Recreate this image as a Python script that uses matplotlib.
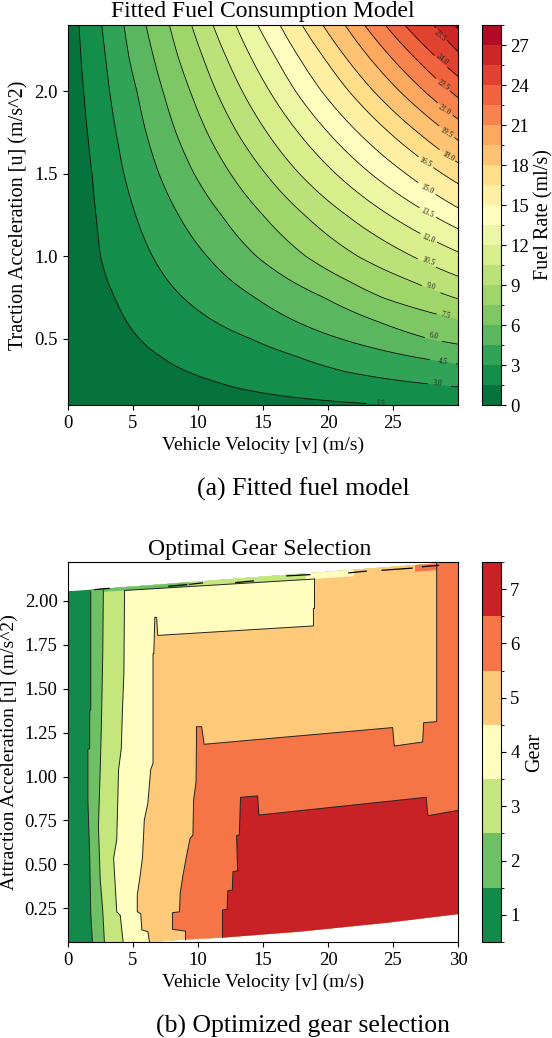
import matplotlib
matplotlib.use("Agg")
import matplotlib.pyplot as plt
import numpy as np
from matplotlib.cm import ScalarMappable
from matplotlib.colors import BoundaryNorm, ListedColormap
from matplotlib.patches import Polygon

plt.rcParams['font.family'] = ['Liberation Serif', 'DejaVu Serif']
W, H = 552, 1038

# ---- fuel model: velocity where each contour crosses the acceleration rows
fuel_levels = [1.5, 3, 4.5, 6, 7.5, 9, 10.5, 12, 13.5, 15, 16.5, 18, 19.5, 21, 22.5, 24, 25.5, 27]
fuel_u = [2.4, 2.2, 2.0, 1.75, 1.5, 1.25, 1.0, 0.85, 0.75, 0.6, 0.5, 0.4, 0.3, 0.25, 0.2, 0.15, 0.1]
fuel_v = [
    [0.85, 1.0, 1.2, 1.5, 1.85, 2.15, 2.5, 3.05, 3.6, 4.55, 5.5, 7.0, 9.25, 11, 13.2, 17, 24.8],
    [2.6, 2.9, 3.2, 3.7, 4.3, 5.2, 6.5, 7.7, 8.85, 11.4, 14.1, 17.4, 21.45, 25.3, 31.5],
    [4.3, 4.7, 5.3, 6.0, 7.0, 8.5, 10.7, 12.6, 14.4, 17.7, 21, 26, 35],
    [6.0, 6.6, 7.3, 8.3, 9.7, 11.8, 14.5, 17.2, 19.7, 24, 27.8, 36],
    [7.8, 8.5, 9.4, 10.7, 12.5, 15, 18.3, 21.6, 24.2, 31, 37],
    [9.5, 10.4, 11.4, 13, 15.2, 18.2, 22.3, 26.4, 29.7, 38],
    [11.15, 12.2, 13.4, 15.3, 17.8, 21.4, 26.5, 31, 36],
    [12.9, 14.1, 15.5, 17.7, 20.6, 24.7, 30.8, 36],
    [14.6, 16, 17.5, 20, 23.3, 28, 35],
    [16.3, 17.8, 19.5, 22.3, 26, 31, 38],
    [18, 19.7, 21.6, 24.7, 28.8, 34.5],
    [19.6, 21.4, 23.5, 26.9, 31.3, 37],
    [21.3, 23.2, 25.5, 29.2, 34],
    [22.8, 24.9, 27.4, 31.4, 37],
    [24.4, 26.7, 29.4, 33.6],
    [25.9, 28.4, 31.4],
    [28.1, 30.5],
    [29.7, 32.7],
]
fuel_ticks = [0, 3, 6, 9, 12, 15, 18, 21, 24, 27]
# contour labels
label_text = ['1.5', '3.0', '4.5', '6.0', '7.5', '9.0', '10.5', '12.0', '13.5', '15.0', '16.5', '18.0', '19.5', '21.0', '22.5', '24.0', '25.5']
label_v = [24, 28.4, 28.8, 28.15, 29.05, 27.95, 27.7, 27.7, 27.6, 27.6, 27.5, 29.2, 29.1, 28.96, 28.85, 28.8, 28.6]
label_u = [0.11, 0.23, 0.361, 0.516, 0.643, 0.814, 0.969, 1.106, 1.263, 1.408, 1.569, 1.605, 1.746, 1.887, 2.038, 2.189, 2.336]
label_rot = [-6, -5, -8, -12, -15, -18, -20, -22, -25, -27, -28, -30, -32, -33, -35, -38, -42]

# ---- gear map: boundary between gear k and k+1
b12_v = [1.88, 1.75, 1.67, 1.53, 1.53, 1.67, 1.67, 1.75, 1.75]
b12_u = [0.058, 0.22, 0.544, 0.867, 1.155, 1.16, 1.37, 1.38, 2.057]
b23_v = [2.80, 2.67, 2.48, 2.34, 2.48, 2.56, 2.67, 2.72]
b23_u = [0.058, 0.24, 0.41, 0.715, 1.04, 1.265, 1.683, 2.06]
b34_v = [4.24, 4.02, 3.75, 3.51, 3.75, 3.89, 4.1, 4.19, 4.3, 4.35]
b34_u = [0.058, 0.21, 0.23, 0.535, 0.64, 1.04, 1.16, 1.38, 1.59, 2.06]
b45_v = [6.27, 6.14, 5.68, 5.6, 5.33, 5.33, 5.54, 5.73, 5.87, 6.14, 6.36, 6.54, 6.54, 6.6, 6.68, 6.82, 6.9, 18.88, 18.88, 18.96, 18.96]
b45_u = [0.058, 0.117, 0.127, 0.218, 0.231, 0.326, 0.43, 0.54, 0.753, 0.847, 1.04, 1.075, 1.70, 1.70, 1.907, 1.907, 1.804, 1.858, 1.958, 1.958, 2.125]
b56_v = [9.04, 9.04, 8.04, 8.04, 8.58, 8.63, 8.85, 9.12, 9.39, 9.61, 9.66, 9.85, 9.88, 9.88, 10.28, 10.47, 24.97, 25.1, 27.28, 27.36, 28.36, 28.36]
b56_u = [0.07, 0.12, 0.13, 0.225, 0.23, 0.335, 0.44, 0.548, 0.648, 0.667, 0.863, 0.97, 1.18, 1.284, 1.284, 1.184, 1.279, 1.174, 1.197, 1.307, 1.313, 2.214]
b67_v = [11.88, 11.88, 12.24, 12.29, 12.64, 12.69, 13.05, 12.97, 13.18, 13.27, 14.59, 14.68, 27.55, 27.68, 30.04]
b67_u = [0.083, 0.24, 0.244, 0.35, 0.354, 0.459, 0.463, 0.664, 0.668, 0.882, 0.89, 0.781, 0.882, 0.777, 0.808]
gear_bounds = [(b12_v, b12_u), (b23_v, b23_u), (b34_v, b34_u), (b45_v, b45_u), (b56_v, b56_u), (b67_v, b67_u)]
gear_ticks = [1, 2, 3, 4, 5, 6, 7]
# outline of where the map has data
region_v = [0, 6.3, 8.5, 11.88, 17.8, 24.56, 30, 30, 28.36, 0.4, 0]
region_u = [0.058, 0.058, 0.07, 0.083, 0.117, 0.168, 0.217, 2.222, 2.214, 2.057, 2.057]
# thin slivers along the top edge
sliver_gear = [2, 3, 4, 5, 6]
sliver_from = [1.7, 9.4, 18.3, 22, 26.7]
sliver_to = [9.4, 18.3, 22, 26.7, 28.36]
# lower edge of the slivers (top of the gear 4 and 5 areas)
edge_v = [0, 4.35, 18.96, 28.36]
edge_u = [2.04, 2.06, 2.125, 2.175]
# short black dashes on the top edge
dash_v = [(2.07, 3.16), (7.76, 9.12), (9.39, 10.34), (12.9, 14.27), (16.84, 18.6), (21.6, 22.94), (24.16, 26.46), (27.27, 28.5)]
dash_u = [(2.065, 2.072), (2.084, 2.093), (2.095, 2.103), (2.105, 2.114), (2.143, 2.15), (2.16, 2.17), (2.175, 2.187), (2.195, 2.203)]


def px_axes(x0, y0, x1, y1):
    return fig.add_axes([x0 / W, 1 - y1 / H, (x1 - x0) / W, (y1 - y0) / H])


def smooth(vs, us):
    # finer drawing of a contour between its read points (log-log, they are near hyperbolas)
    uu = np.geomspace(us[0], us[-1], 150)
    vv = np.exp(np.interp(np.log(uu)[::-1], np.log(us)[::-1], np.log(vs)[::-1]))[::-1]
    return vv, uu


fig = plt.figure(figsize=(W / 100, H / 100), dpi=100)
cmap = plt.get_cmap('RdYlGn_r')
AX_L, AX_R = 68, 458
CB_L, CB_R = 482, 500.5

# ---- top panel
fuel_colors = [cmap((i + 0.5) / 19) for i in range(19)]
ax = px_axes(AX_L, 25, AX_R, 405)
ax.set_facecolor(fuel_colors[0])
sx = (AX_R - AX_L) / 30
sy = 380 / 2.3
for i, (lev, vs) in enumerate(zip(fuel_levels, fuel_v)):
    vv, uu = smooth(vs, fuel_u[:len(vs)])
    far = max(vv[-1], 31)
    ax.fill(list(vv) + [far, far], list(uu) + [uu[-1], 2.6], color=fuel_colors[i + 1], lw=0)
for i, vs in enumerate(fuel_v):
    vv, uu = smooth(vs, fuel_u[:len(vs)])
    # leave a gap in the line where its label sits
    if i < len(label_text):
        d = np.hypot((vv - label_v[i]) * sx, (uu - label_u[i]) * sy)
        vv = np.where(d < 9, np.nan, vv)
    ax.plot(vv, uu, color='black', lw=0.55)
for t, v, u, r in zip(label_text, label_v, label_u, label_rot):
    ax.text(v, u, t, fontsize=5.5, rotation=r, ha='center', va='center', color='#222222')
ax.set_xlim(0, 30)
ax.set_ylim(0.1, 2.4)
ax.set_xticks([0, 5, 10, 15, 20, 25])
ax.set_yticks([0.5, 1.0, 1.5, 2.0])
ax.tick_params(labelsize=13.5, length=3.5, pad=4)
ax.set_xlabel('Vehicle Velocity [v] (m/s)', fontsize=14, labelpad=3)
ax.set_ylabel('Traction Acceleration [u] (m/s^2)', fontsize=14.5)
ax.yaxis.set_label_coords((28 - AX_L) / (AX_R - AX_L), 0.5)

cax = px_axes(CB_L, 25, CB_R, 405)
fuel_bounds = [i * 1.5 for i in range(20)]
sm = ScalarMappable(norm=BoundaryNorm(fuel_bounds, 19), cmap=ListedColormap(fuel_colors))
cb = fig.colorbar(sm, cax=cax, ticks=fuel_ticks)
cb.ax.tick_params(labelsize=13.5, length=3.5)
cb.set_label('Fuel Rate (ml/s)', fontsize=14.5, labelpad=4)

# ---- bottom panel
gear_colors = [cmap((i + 0.5) / 7) for i in range(7)]
ax2 = px_axes(AX_L, 562, AX_R, 942)
region = Polygon(list(zip(region_v, region_u)), closed=True, facecolor=gear_colors[0], edgecolor='none')
ax2.add_patch(region)
far = 31
for k, (vs, us) in enumerate(gear_bounds):
    if k == 5:
        xs = vs + [far, far, vs[0]]
        ys = us + [us[-1], 0.0, 0.0]
    else:
        xs = vs + [vs[-1], far, far, vs[0]]
        ys = us + [2.3, 2.3, 0.0, 0.0]
    for p in ax2.fill(xs, ys, color=gear_colors[k + 1], lw=0):
        p.set_clip_path(region)
for g, v0, v1 in zip(sliver_gear, sliver_from, sliver_to):
    lo0, lo1 = np.interp([v0, v1], edge_v, edge_u)
    for p in ax2.fill([v0, v1, v1, v0], [lo0, lo1, 2.3, 2.3], color=gear_colors[g - 1], lw=0):
        p.set_clip_path(region)
for vs, us in gear_bounds:
    ax2.plot(vs, us, color='#222222', lw=0.7)
ax2.plot([4.35, 18.96], [2.06, 2.125], color='#222222', lw=0.7)
for vs, us in zip(dash_v, dash_u):
    ax2.plot(vs, us, color='black', lw=0.9)
ax2.set_xlim(0, 30)
ax2.set_ylim(0.058, 2.222)
ax2.set_xticks([0, 5, 10, 15, 20, 25, 30])
ax2.set_yticks([0.25, 0.5, 0.75, 1.0, 1.25, 1.5, 1.75, 2.0])
ax2.set_yticklabels(['0.25', '0.50', '0.75', '1.00', '1.25', '1.50', '1.75', '2.00'])
ax2.tick_params(labelsize=13.5, length=3.5, pad=4)
ax2.set_xlabel('Vehicle Velocity [v] (m/s)', fontsize=14, labelpad=3)
ax2.set_ylabel('Attraction Acceleration [u] (m/s^2)', fontsize=14)
ax2.yaxis.set_label_coords((18 - AX_L) / (AX_R - AX_L), 0.5)

cax2 = px_axes(CB_L, 562, CB_R, 942)
sm2 = ScalarMappable(norm=BoundaryNorm([i + 0.5 for i in range(8)], 7), cmap=ListedColormap(gear_colors))
cb2 = fig.colorbar(sm2, cax=cax2, ticks=gear_ticks)
cb2.ax.tick_params(labelsize=13.5, length=3.5)
cb2.set_label('Gear', fontsize=14.5, labelpad=4)

# ---- titles and captions
fig.text(263 / W, 1 - 17.5 / H, 'Fitted Fuel Consumption Model', fontsize=17, ha='center', va='baseline')
fig.text(260 / W, 1 - 555 / H, 'Optimal Gear Selection', fontsize=17, ha='center', va='baseline')
fig.text(303 / W, 1 - 496 / H, '(a) Fitted fuel model', fontsize=18.5, ha='center', va='baseline')
fig.text(303 / W, 1 - 1033 / H, '(b) Optimized gear selection', fontsize=18.5, ha='center', va='baseline')

fig.savefig('out.png', dpi=100)
